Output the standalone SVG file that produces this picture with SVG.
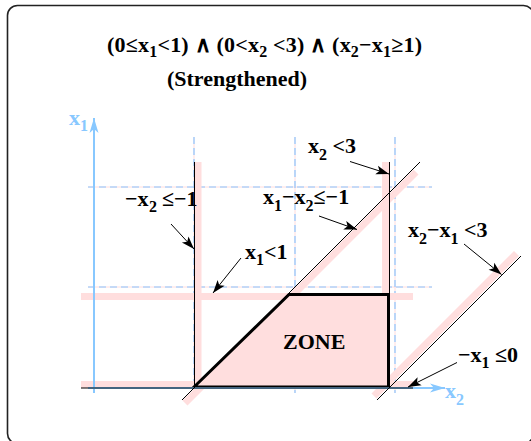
<svg xmlns="http://www.w3.org/2000/svg" width="531" height="441" viewBox="0 0 531 441">
<style>
text{font-family:"Liberation Serif","Times New Roman",serif;font-weight:bold;font-size:22px;fill:#000}
.sub{font-size:16px}
.ax{fill:#88c8ff}
.grid{stroke:#ffdcdc;stroke-width:1;fill:none}
.gridd{stroke:#8cc6ff;stroke-width:1.2;stroke-dasharray:7 4;fill:none}
.band{stroke:#ffdede;stroke-width:7;fill:none}
.thin{stroke:#000;stroke-width:1;fill:none}
.arr{stroke:#000;stroke-width:1;fill:none;marker-end:url(#ah)}
.axis{stroke:#88c8ff;stroke-width:2;fill:none;marker-end:url(#bh)}
</style>
<defs>
<marker id="ah" markerUnits="userSpaceOnUse" markerWidth="16" markerHeight="12" viewBox="-14 -6 16 12" refX="0" refY="0" orient="auto"><path d="M0,0 L-13,-4.5 L-10,0 L-13,4.5 Z" fill="#000"/></marker>
<marker id="bh" markerUnits="userSpaceOnUse" markerWidth="18" markerHeight="12" viewBox="-16 -6 18 12" refX="0" refY="0" orient="auto"><path d="M0,0 L-15,-4.5 L-11,0 L-15,4.5 Z" fill="#88c8ff"/></marker>
</defs>

<rect id="frame" x="7.5" y="5.5" width="526" height="438" rx="10" ry="10" fill="none" stroke="#222" stroke-width="1.6"/>

<g id="title">
<text x="107" y="52" letter-spacing="0.2">(0≤x<tspan class="sub" dy="5">1</tspan><tspan dy="-5">&lt;1) ∧ (0&lt;x</tspan><tspan class="sub" dy="5">2</tspan><tspan dy="-5"> &lt;3) ∧ (x</tspan><tspan class="sub" dy="5">2</tspan><tspan dy="-5">−x</tspan><tspan class="sub" dy="5">1</tspan><tspan dy="-5">≥1)</tspan></text>
<text x="237" y="86" text-anchor="middle">(Strengthened)</text>
</g>

<g id="grid">
<path class="grid" d="M88,187H432M88,287H432M194,137V393M295,137V393M395,137V393"/>
<path class="gridd" d="M88,187H432M88,287H432M194,137V393M295,137V393M395,137V393"/>
</g>

<g id="bands">
<path class="band" d="M81,296.5H413"/>
<path class="band" d="M81,384.5H413"/>
<path class="band" d="M198,162V388"/>
<path class="band" d="M385.5,162V388"/>
<path class="band" d="M185,403L416,172"/>
<path class="band" d="M374,396L516.5,253.5"/>
</g>

<g id="zone">
<polygon points="194,387 289,294.5 388.5,294.5 388.5,387" fill="#ffdede" stroke="#000" stroke-width="3" stroke-linejoin="miter"/>
<text x="283" y="349">ZONE</text>
</g>

<g id="axes">
<path class="axis" d="M94,393V118"/>
<path class="axis" d="M88,388H445"/>
<text class="ax" x="69" y="125">x<tspan class="sub" dy="6">1</tspan></text>
<text class="ax" x="445" y="398">x<tspan class="sub" dy="7">2</tspan></text>
</g>

<g id="connectors">
<path class="thin" d="M194.5,162V388"/>
<path class="thin" d="M389.5,162V388"/>
<path class="thin" d="M182,400L420,162"/>
<path class="thin" d="M377,400L521,256"/>
<path class="thin" stroke="#334455" d="M81,388H413"/>
<path class="arr" d="M171,224L194,249"/>
<path class="arr" d="M241,258L213,293"/>
<path class="arr" d="M319,216L357,229.5"/>
<path class="arr" d="M350,161.5L389,174"/>
<path class="arr" d="M464,244L501.5,274.5"/>
<path class="arr" d="M457,362.5L408,387"/>
</g>

<g id="labels">
<text x="125" y="206">−x<tspan class="sub" x="149" y="212">2</tspan><tspan x="162" y="206">≤−1</tspan></text>
<text x="245" y="259">x<tspan class="sub" y="265">1</tspan><tspan y="259">&lt;1</tspan></text>
<text x="263" y="204">x<tspan class="sub" y="211">1</tspan><tspan y="204">−x</tspan><tspan class="sub" y="211">2</tspan><tspan y="204">≤−1</tspan></text>
<text x="308" y="153">x<tspan class="sub" y="160">2</tspan><tspan y="153"> &lt;3</tspan></text>
<text x="408" y="237">x<tspan class="sub" y="244">2</tspan><tspan y="237">−x</tspan><tspan class="sub" y="244">1</tspan><tspan y="237"> &lt;3</tspan></text>
<text x="458" y="362">−x<tspan class="sub" y="368">1</tspan><tspan y="362"> ≤0</tspan></text>
</g>
</svg>
